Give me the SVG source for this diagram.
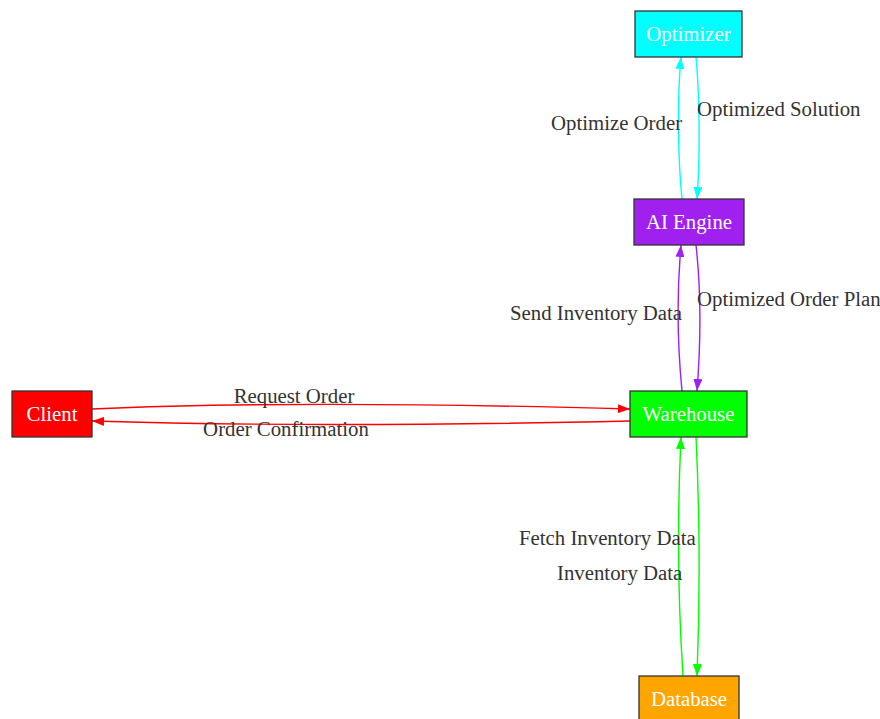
<svg xmlns="http://www.w3.org/2000/svg" width="880" height="719" viewBox="0 0 880 719">
<style>
.node rect{stroke:#333;stroke-width:1.3}
.node text{fill:#fff;font-family:"Liberation Serif",serif;font-size:20.8px;text-anchor:middle}
.lbl{fill:#333;font-family:"Liberation Serif",serif;font-size:20.8px}
.e{fill:none;stroke-width:1.4}
</style>
<defs>
<marker id="mc" viewBox="0 0 12 9" refX="12" refY="4.5" markerWidth="12" markerHeight="9" markerUnits="userSpaceOnUse" orient="auto"><path d="M0,0L12,4.5L0,9z" fill="#00ffff"/></marker>
<marker id="mp" viewBox="0 0 12 9" refX="12" refY="4.5" markerWidth="12" markerHeight="9" markerUnits="userSpaceOnUse" orient="auto"><path d="M0,0L12,4.5L0,9z" fill="#a020f0"/></marker>
<marker id="mr" viewBox="0 0 12 9" refX="12" refY="4.5" markerWidth="12" markerHeight="9" markerUnits="userSpaceOnUse" orient="auto"><path d="M0,0L12,4.5L0,9z" fill="#ff0000"/></marker>
<marker id="mg" viewBox="0 0 12 9" refX="12" refY="4.5" markerWidth="12" markerHeight="9" markerUnits="userSpaceOnUse" orient="auto"><path d="M0,0L12,4.5L0,9z" fill="#00ff00"/></marker>
</defs>
<rect width="880" height="719" fill="#fff"/>
<g id="connectors">
<path class="e" stroke="#00ffff" marker-end="url(#mc)" d="M682,199 C678,160 677,100 681,57"/>
<path class="e" stroke="#00ffff" marker-end="url(#mc)" d="M696,57 C700,100 700,160 697,199"/>
<path class="e" stroke="#a020f0" marker-end="url(#mp)" d="M682,391 C677,340 677,290 681,245"/>
<path class="e" stroke="#a020f0" marker-end="url(#mp)" d="M696,245 C701,290 701,340 697,391"/>
<path class="e" stroke="#ff0000" marker-end="url(#mr)" d="M92,409 C250,402 450,404 630,409"/>
<path class="e" stroke="#ff0000" marker-end="url(#mr)" d="M630,421 C450,425 250,426 92,421"/>
<path class="e" stroke="#00ff00" marker-end="url(#mg)" d="M696,437 C700,520 700,600 697,676"/>
<path class="e" stroke="#00ff00" marker-end="url(#mg)" d="M683,676 C678,600 677,520 681,437"/>
</g>
<g id="labels">
<text class="lbl" x="551" y="130">Optimize Order</text>
<text class="lbl" x="697" y="116">Optimized Solution</text>
<text class="lbl" x="510" y="320">Send Inventory Data</text>
<text class="lbl" x="697" y="306">Optimized Order Plan</text>
<text class="lbl" x="294" y="403" text-anchor="middle">Request Order</text>
<text class="lbl" x="286" y="436" text-anchor="middle">Order Confirmation</text>
<text class="lbl" x="519" y="545">Fetch Inventory Data</text>
<text class="lbl" x="557" y="580">Inventory Data</text>
</g>
<g id="optimizer" class="node"><rect x="635" y="11" width="107" height="46" fill="#00ffff"/><text x="688.5" y="41">Optimizer</text></g>
<g id="ai-engine" class="node"><rect x="634" y="199" width="110" height="46" fill="#a020f0"/><text x="689" y="229">AI Engine</text></g>
<g id="client" class="node"><rect x="12" y="391" width="80" height="46" fill="#ff0000"/><text x="52" y="421">Client</text></g>
<g id="warehouse" class="node"><rect x="630" y="391" width="117" height="46" fill="#00ff00"/><text x="688.5" y="421">Warehouse</text></g>
<g id="database" class="node"><rect x="639" y="676" width="100" height="46" fill="#ffa500"/><text x="689" y="706">Database</text></g>
</svg>
